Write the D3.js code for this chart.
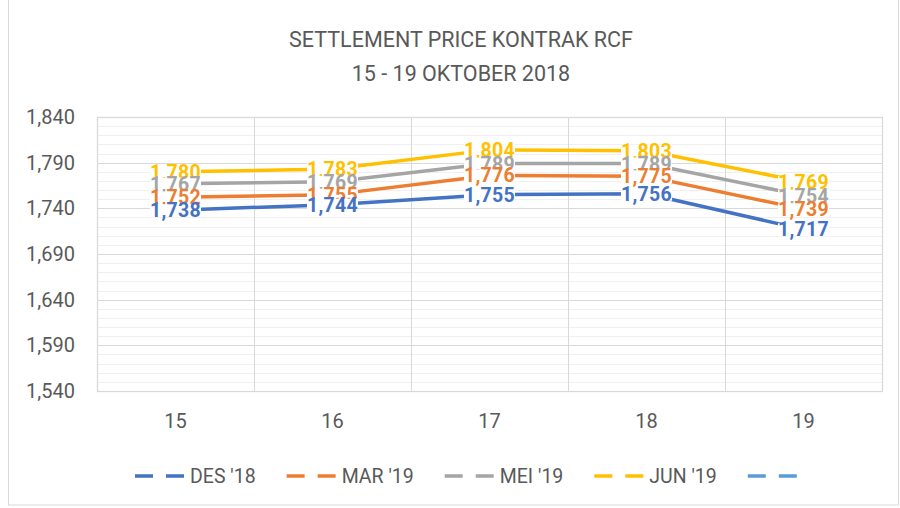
<!DOCTYPE html>
<html>
<head>
<meta charset="utf-8">
<script src="https://cdn.jsdelivr.net/npm/d3@7"></script>
<style>
  body { margin: 0; background: #fff; }
  text { font-family: Roboto, "Open Sans", sans-serif; }
</style>
</head>
<body>
<div id="chart"></div>
<script>
// data
var days = ["15", "16", "17", "18", "19"];
var seriesNames = ["DES '18", "MAR '19", "MEI '19", "JUN '19", ""];
var desValues = [1738, 1744, 1755, 1756, 1717];
var marValues = [1752, 1755, 1776, 1775, 1739];
var meiValues = [1767, 1769, 1789, 1789, 1754];
var junValues = [1780, 1783, 1804, 1803, 1769];
var yTicks = [1540, 1590, 1640, 1690, 1740, 1790, 1840];
var colors = ["#4472C4", "#ED7D31", "#A5A5A5", "#FFC000", "#5B9BD5"];

var series = [desValues, marValues, meiValues, junValues];

var svgWidth = 900;
var svgHeight = 508;
var margin = { top: 117, right: 18, bottom: 117, left: 97 };
var width = svgWidth - margin.left - margin.right;
var height = svgHeight - margin.top - margin.bottom;

var svg = d3.select("#chart")
  .append("svg")
  .attr("width", svgWidth)
  .attr("height", svgHeight);

// outer chart border
svg.append("rect")
  .attr("x", 8.5).attr("y", -1)
  .attr("width", 890).attr("height", 506)
  .attr("fill", "none")
  .attr("stroke", "#d9d9d9");

// title
svg.append("text")
  .attr("x", 461).attr("y", 47)
  .attr("text-anchor", "middle")
  .style("font-size", "21.5px")
  .attr("fill", "#595959")
  .text("SETTLEMENT PRICE KONTRAK RCF");
svg.append("text")
  .attr("x", 461).attr("y", 80.5)
  .attr("text-anchor", "middle")
  .style("font-size", "21.5px")
  .attr("fill", "#595959")
  .text("15 - 19 OKTOBER 2018");

var chartGroup = svg.append("g")
  .attr("transform", `translate(${margin.left}, ${margin.top})`);

var xScale = d3.scaleBand().domain(days).range([0, width]);
var yScale = d3.scaleLinear().domain([1540, 1840]).range([height, 0]);

// minor gridlines every 10
chartGroup.selectAll(".minor")
  .data(d3.range(1550, 1840, 10).filter(v => (v - 1540) % 50 != 0))
  .enter()
  .append("line")
  .attr("x1", 0).attr("x2", width)
  .attr("y1", d => Math.round(yScale(d)) + 0.5)
  .attr("y2", d => Math.round(yScale(d)) + 0.5)
  .attr("stroke", "#f0f0f0");

// major gridlines
chartGroup.selectAll(".major")
  .data(yTicks)
  .enter()
  .append("line")
  .attr("x1", 0).attr("x2", width)
  .attr("y1", d => Math.round(yScale(d)) + 0.5)
  .attr("y2", d => Math.round(yScale(d)) + 0.5)
  .attr("stroke", "#d9d9d9");

// vertical gridlines at category boundaries
chartGroup.selectAll(".vgrid")
  .data(days)
  .enter()
  .append("line")
  .attr("x1", d => Math.round(xScale(d)) + 0.5)
  .attr("x2", d => Math.round(xScale(d)) + 0.5)
  .attr("y1", 0).attr("y2", height)
  .attr("stroke", "#d9d9d9");

// plot border
chartGroup.append("rect")
  .attr("x", 0.5).attr("y", 0.5)
  .attr("width", width).attr("height", height)
  .attr("fill", "none")
  .attr("stroke", "#d9d9d9")
  .attr("stroke-width", 1.3);

// axes (using d3 axes, with their paths removed)
var leftAxis = d3.axisLeft(yScale).tickValues(yTicks).tickSize(0).tickPadding(22)
  .tickFormat(d3.format(","));
var yAxisG = chartGroup.append("g").call(leftAxis);
yAxisG.select(".domain").remove();
yAxisG.selectAll("text")
  .style("font-size", "20px")
  .style("font-family", "Roboto, sans-serif")
  .attr("fill", "#595959");

var bottomAxis = d3.axisBottom(xScale).tickSize(0).tickPadding(23);
var xAxisG = chartGroup.append("g")
  .attr("transform", `translate(0, ${height})`)
  .call(bottomAxis);
xAxisG.select(".domain").remove();
xAxisG.selectAll("text")
  .style("font-size", "20px")
  .style("font-family", "Roboto, sans-serif")
  .attr("fill", "#595959");

// lines
var line = d3.line()
  .x((d, i) => xScale(days[i]) + xScale.bandwidth() / 2)
  .y(d => yScale(d));

series.forEach(function(values, s) {
  chartGroup.append("path")
    .datum(values)
    .attr("d", line)
    .attr("fill", "none")
    .attr("stroke", colors[s])
    .attr("stroke-width", 3.5)
    .attr("stroke-linejoin", "round");
});

// data labels, lower series drawn last so they sit on top
for (var s = series.length - 1; s >= 0; s--) {
  series[s].forEach(function(v, i) {
    var cx = xScale(days[i]) + xScale.bandwidth() / 2;
    var cy = yScale(v);
    var g = chartGroup.append("g");
    var bg = g.append("rect").attr("fill", "#fff");
    var t = g.append("text")
      .attr("x", cx)
      .attr("y", cy + 7)
      .attr("text-anchor", "middle")
      .style("font-size", "19.5px")
      .style("font-weight", "bold")
      .style("letter-spacing", "0.3px")
      .attr("fill", colors[s])
      .text(d3.format(",")(v));
    var bb = t.node().getBBox();
    bg.attr("x", bb.x).attr("y", cy - 6)
      .attr("width", bb.width).attr("height", 13);
  });
}

// legend
var legend = svg.append("g");
var lx = 135;
var ly = 476;
seriesNames.forEach(function(name, s) {
  legend.append("line")
    .attr("x1", lx).attr("x2", lx + 51)
    .attr("y1", ly).attr("y2", ly)
    .attr("stroke", colors[s])
    .attr("stroke-width", 3.5)
    .attr("stroke-dasharray", "18,13");
  lx += 55;
  if (name) {
    var t = legend.append("text")
      .attr("x", lx).attr("y", ly + 7)
      .style("font-size", "19.5px")
      .attr("fill", "#595959")
      .text(name);
    lx += t.node().getComputedTextLength() + 31;
  }
});
</script>
</body>
</html>
